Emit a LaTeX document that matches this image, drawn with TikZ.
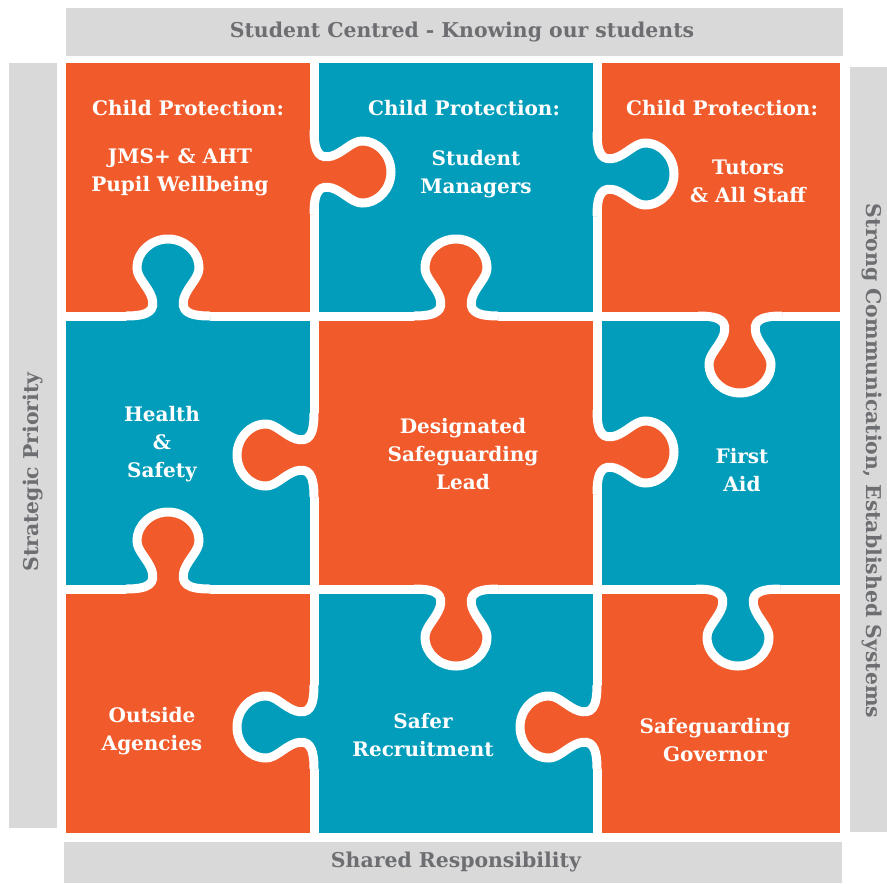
\documentclass[tikz,border=0pt]{standalone}
\usepackage{fontspec}
\setmainfont{DejaVu Serif}
\usepackage{tikz}

\definecolor{puzzleorange}{RGB}{241,91,43}
\definecolor{puzzleteal}{RGB}{2,157,187}
\definecolor{bandgray}{RGB}{217,217,217}
\definecolor{bandtext}{RGB}{109,110,113}

\tikzset{
  cut/.style={white, line width=6.75pt},
  piecelabel/.style={text=white, inner sep=0.75pt, align=center,
    font=\bfseries\fontsize{15}{21}\selectfont},
  bandlabel/.style={text=bandtext, inner sep=0.75pt,
    font=\bfseries\fontsize{15.3}{18}\selectfont}
}

% outline of one tab, drawn along the edge from (-42,0) to (42,0), sticking out to +y
\newcommand{\tabcurve}{.. controls (-18,0) and (-13,6) .. (-16,18) .. controls (-20,30) and (-31,38) .. (-31,48) .. controls (-31,65) and (-16,77) .. (0,77) .. controls (16,77) and (31,65) .. (31,48) .. controls (31,38) and (20,30) .. (16,18) .. controls (13,6) and (18,0) .. (42,0)}
% #1,#2 point on the edge, #3 rotation, #4 colour of the piece that owns the tab
\newcommand{\puzzletab}[4]{%
  \begin{scope}[shift={(#1,#2)}, rotate=#3]
    \fill[#4] (-42,-6) -- (-42,0) \tabcurve -- (42,-6) -- cycle;
    \draw[cut] (-42,0) \tabcurve;
  \end{scope}}

\begin{document}
\begin{tikzpicture}[x=0.75pt,y=0.75pt,yscale=-1,xscale=1]
\useasboundingbox (0,0) rectangle (887,883);

%Shape: Bands
\fill[bandgray] (66,8) rectangle (843,56);
\fill[bandgray] (9,63) rectangle (57,828);
\fill[bandgray] (850,67) rectangle (887,832);
\fill[bandgray] (64,842) rectangle (842,883);

%Shape: Pieces
\fill[puzzleorange] (66,63) rectangle (314,316);
\fill[puzzleteal] (314,63) rectangle (597,316);
\fill[puzzleorange] (597,63) rectangle (840,316);
\fill[puzzleteal] (66,316) rectangle (314,589);
\fill[puzzleorange] (314,316) rectangle (597,589);
\fill[puzzleteal] (597,316) rectangle (840,589);
\fill[puzzleorange] (66,589) rectangle (314,833);
\fill[puzzleteal] (314,589) rectangle (597,833);
\fill[puzzleorange] (597,589) rectangle (840,833);

%Straight Lines: cuts between the pieces
\draw[cut] (314,63) -- (314,833);
\draw[cut] (597,63) -- (597,833);
\draw[cut] (66,316) -- (840,316);
\draw[cut] (66,589) -- (840,589);

%Shape: Tabs
\puzzletab{314}{172}{-90}{puzzleorange}
\puzzletab{168}{316}{180}{puzzleteal}
\puzzletab{597}{174}{-90}{puzzleteal}
\puzzletab{456}{316}{180}{puzzleorange}
\puzzletab{740}{316}{0}{puzzleorange}
\puzzletab{314}{455}{90}{puzzleorange}
\puzzletab{597}{452}{-90}{puzzleorange}
\puzzletab{168}{589}{180}{puzzleorange}
\puzzletab{456}{589}{0}{puzzleorange}
\puzzletab{738}{589}{0}{puzzleteal}
\puzzletab{314}{727}{90}{puzzleteal}
\puzzletab{597}{727}{90}{puzzleorange}

% Text Node
\node[bandlabel] (topband) at (462,32) {Student Centred - Knowing our students};
% Text Node
\node[bandlabel] (bottomband) at (456,862) {Shared Responsibility};
% Text Node
\node[bandlabel, rotate=90] (leftband) at (33,472) {Strategic Priority};
% Text Node
\node[bandlabel, rotate=-90] (rightband) at (872,461) {Strong Communication, Established Systems};

% Text Node
\node[piecelabel] (cpjmshead) at (188,108) {Child Protection:};
% Text Node
\node[piecelabel] (cpjms) at (180,172) {JMS+ \& AHT\\Pupil Wellbeing};
% Text Node
\node[piecelabel] (cpmanhead) at (464,108) {Child Protection:};
% Text Node
\node[piecelabel] (cpman) at (476,174) {Student\\Managers};
% Text Node
\node[piecelabel] (cptutorhead) at (722,108) {Child Protection:};
% Text Node
\node[piecelabel] (cptutor) at (748,181) {Tutors\\\& All Staff};
% Text Node
\node[piecelabel] (health) at (162,444) {Health\\\&\\Safety};
% Text Node
\node[piecelabel] (dsl) at (463,454) {Designated\\Safeguarding\\Lead};
% Text Node
\node[piecelabel] (firstaid) at (742,470) {First\\Aid};
% Text Node
\node[piecelabel] (outside) at (152,731) {Outside\\Agencies};
% Text Node
\node[piecelabel] (recruit) at (423,735) {Safer\\Recruitment};
% Text Node
\node[piecelabel] (governor) at (715,740) {Safeguarding\\Governor};

\end{tikzpicture}
\end{document}
